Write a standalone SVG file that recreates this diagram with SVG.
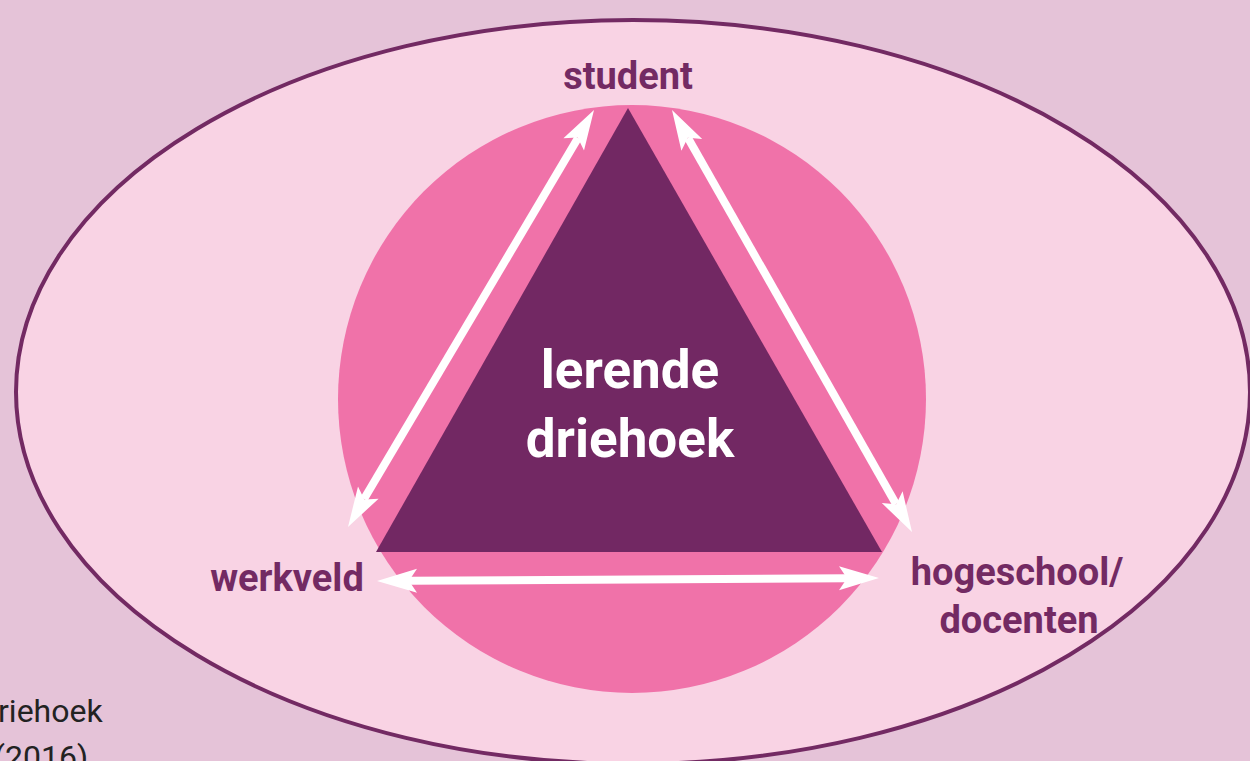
<svg xmlns="http://www.w3.org/2000/svg" width="1250" height="761" viewBox="0 0 1250 761">
<style>
.lbl{font-family:Roboto,"Liberation Sans",sans-serif;font-weight:bold;fill:#732a63;font-size:38px}
.ctr{font-family:Roboto,"Liberation Sans",sans-serif;font-weight:bold;fill:#ffffff;font-size:53px}
.note{font-family:Roboto,"Liberation Sans",sans-serif;fill:#222222;font-size:32px}
.arr{stroke:#ffffff;stroke-width:8;fill:none}
.head{fill:#ffffff}
</style>
<rect width="1250" height="761" fill="#e5c3d8"/>
<g id="outer">
<ellipse cx="633" cy="392" rx="617" ry="372" fill="#f9d3e4" stroke="#732a63" stroke-width="4"/>
</g>
<g id="circle">
<circle cx="632" cy="399" r="294" fill="#f072a9"/>
</g>
<g id="triangle">
<polygon points="628,108 376,552 882,552" fill="#722863"/>
<text class="ctr" x="630" y="388" text-anchor="middle">lerende</text>
<text class="ctr" x="630" y="457" text-anchor="middle">driehoek</text>
</g>
<g id="connectors">
<line class="arr" x1="364" y1="499" x2="578" y2="138"/>
<polygon class="head" points="594,110 584,150.5 577.7,137.6 563.4,138.3"/>
<polygon class="head" points="348,527 358,486.5 364.3,499.4 378.6,498.7"/>
<line class="arr" x1="688" y1="138" x2="896" y2="504"/>
<polygon class="head" points="672,110 681.4,150.7 687.8,137.8 702.2,138.9"/>
<polygon class="head" points="912,532 881.8,503.1 896.2,504.2 902.6,491.3"/>
<line class="arr" x1="409" y1="580.8" x2="847" y2="578.2"/>
<polygon class="head" points="377,581 417,568.8 409,580.8 417,592.8"/>
<polygon class="head" points="879,578 839,566.2 847,578.2 839,590.2"/>
</g>
<g id="student"><text class="lbl" x="628" y="89" text-anchor="middle">student</text></g>
<g id="werkveld"><text class="lbl" x="287" y="591" text-anchor="middle">werkveld</text></g>
<g id="hogeschool">
<text class="lbl" x="1017" y="585" text-anchor="middle">hogeschool/</text>
<text class="lbl" x="1019" y="633" text-anchor="middle">docenten</text>
</g>
<g id="note">
<text class="note" x="-2" y="722">riehoek</text>
<text class="note" x="-6" y="768">(2016)</text>
</g>
</svg>
